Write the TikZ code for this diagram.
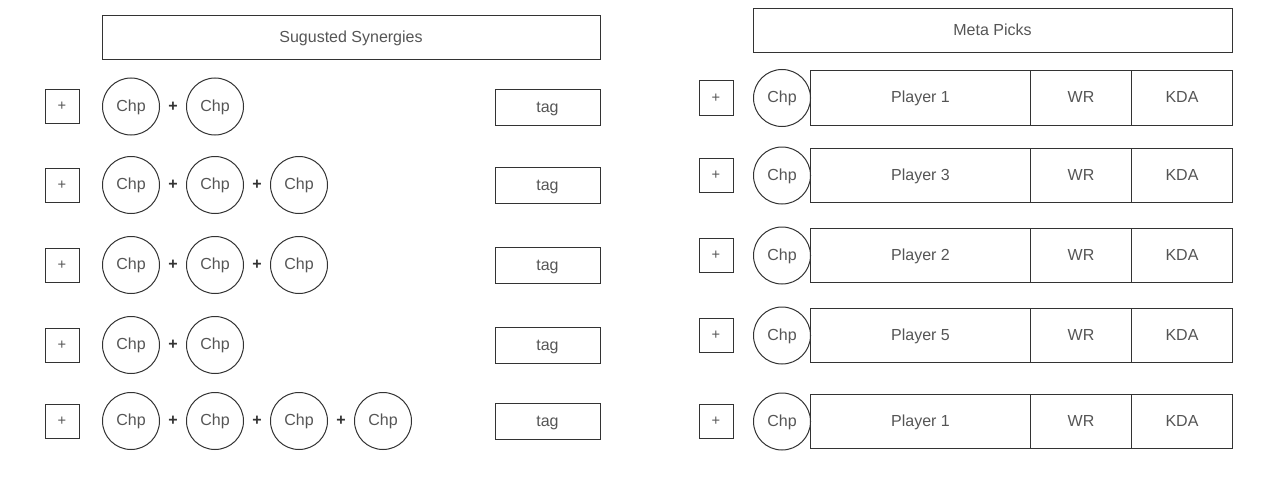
\documentclass[tikz,border=0pt]{standalone}
\usepackage{fontspec}
\setmainfont{Liberation Sans}
\usetikzlibrary{positioning}
\definecolor{linegray}{HTML}{333333}
\definecolor{textgray}{HTML}{555555}

\begin{document}
\begin{tikzpicture}[
    x=0.75pt, y=-0.75pt,
    line width=0.75pt,
    label font/.style={font=\fontsize{12}{14}\selectfont, text=textgray, text height=0.75em, text depth=0.05em},
    header/.style={rectangle, draw=linegray, label font, minimum height=33pt, inner sep=0pt},
    addbox/.style={rectangle, draw=linegray, minimum size=25.5pt, inner sep=0pt, font=\fontsize{11}{13}\selectfont, text=textgray},
    champ/.style={circle, draw=linegray, label font, minimum size=42.75pt, inner sep=0pt, outer sep=0pt},
    plus/.style={minimum width=20.25pt, inner sep=0pt, outer sep=0pt, font=\bfseries\fontsize{12}{14}\selectfont, text=linegray},
    tagbox/.style={rectangle, draw=linegray, label font, minimum width=78.75pt, minimum height=27pt, inner sep=0pt},
    player/.style={rectangle, draw=linegray, label font, minimum width=165pt, minimum height=40.5pt, inner sep=0pt, outer sep=0pt},
    stat/.style={rectangle, draw=linegray, label font, minimum width=75.75pt, minimum height=40.5pt, inner sep=0pt, outer sep=0pt},
]
    \useasboundingbox (0,0) rectangle (1266,503);

    % Suggested synergies
    \node[header, minimum width=373.5pt] (synhead) at (351,37.5) {Sugusted Synergies};

    \node[addbox] (add1) at (62,106.5) {+};
    \node[champ, right=17.25pt of add1] (s1c1) {Chp};
    \node[plus, right=0pt of s1c1] (s1p1) {+};
    \node[champ, right=0pt of s1p1] (s1c2) {Chp};
    \node[tagbox] (tag1) at (547.5,107.5) {tag};

    \node[addbox] (add2) at (62,185) {+};
    \node[champ, right=17.25pt of add2] (s2c1) {Chp};
    \node[plus, right=0pt of s2c1] (s2p1) {+};
    \node[champ, right=0pt of s2p1] (s2c2) {Chp};
    \node[plus, right=0pt of s2c2] (s2p2) {+};
    \node[champ, right=0pt of s2p2] (s2c3) {Chp};
    \node[tagbox] (tag2) at (547.5,185.5) {tag};

    \node[addbox] (add3) at (62,265) {+};
    \node[champ, right=17.25pt of add3] (s3c1) {Chp};
    \node[plus, right=0pt of s3c1] (s3p1) {+};
    \node[champ, right=0pt of s3p1] (s3c2) {Chp};
    \node[plus, right=0pt of s3c2] (s3p2) {+};
    \node[champ, right=0pt of s3p2] (s3c3) {Chp};
    \node[tagbox] (tag3) at (547.5,265.5) {tag};

    \node[addbox] (add4) at (62,345) {+};
    \node[champ, right=17.25pt of add4] (s4c1) {Chp};
    \node[plus, right=0pt of s4c1] (s4p1) {+};
    \node[champ, right=0pt of s4p1] (s4c2) {Chp};
    \node[tagbox] (tag4) at (547.5,345.5) {tag};

    \node[addbox] (add5) at (62,421) {+};
    \node[champ, right=17.25pt of add5] (s5c1) {Chp};
    \node[plus, right=0pt of s5c1] (s5p1) {+};
    \node[champ, right=0pt of s5p1] (s5c2) {Chp};
    \node[plus, right=0pt of s5c2] (s5p2) {+};
    \node[champ, right=0pt of s5p2] (s5c3) {Chp};
    \node[plus, right=0pt of s5c3] (s5p3) {+};
    \node[champ, right=0pt of s5p3] (s5c4) {Chp};
    \node[tagbox] (tag5) at (547.5,421.5) {tag};

    % Meta picks
    \node[header, minimum width=359.25pt] (metahead) at (992.5,30.5) {Meta Picks};

    \node[addbox] (madd1) at (716,98) {+};
    \node[champ, right=15pt of madd1] (m1c) {Chp};
    \node[player, right=0pt of m1c] (m1p) {Player 1};
    \node[stat, right=0pt of m1p] (m1wr) {WR};
    \node[stat, right=0pt of m1wr] (m1kda) {KDA};

    \node[addbox] (madd2) at (716,175.5) {+};
    \node[champ, right=15pt of madd2] (m2c) {Chp};
    \node[player, right=0pt of m2c] (m2p) {Player 3};
    \node[stat, right=0pt of m2p] (m2wr) {WR};
    \node[stat, right=0pt of m2wr] (m2kda) {KDA};

    \node[addbox] (madd3) at (716,255.5) {+};
    \node[champ, right=15pt of madd3] (m3c) {Chp};
    \node[player, right=0pt of m3c] (m3p) {Player 2};
    \node[stat, right=0pt of m3p] (m3wr) {WR};
    \node[stat, right=0pt of m3wr] (m3kda) {KDA};

    \node[addbox] (madd4) at (716,335.5) {+};
    \node[champ, right=15pt of madd4] (m4c) {Chp};
    \node[player, right=0pt of m4c] (m4p) {Player 5};
    \node[stat, right=0pt of m4p] (m4wr) {WR};
    \node[stat, right=0pt of m4wr] (m4kda) {KDA};

    \node[addbox] (madd5) at (716,421.5) {+};
    \node[champ, right=15pt of madd5] (m5c) {Chp};
    \node[player, right=0pt of m5c] (m5p) {Player 1};
    \node[stat, right=0pt of m5p] (m5wr) {WR};
    \node[stat, right=0pt of m5wr] (m5kda) {KDA};
\end{tikzpicture}
\end{document}
